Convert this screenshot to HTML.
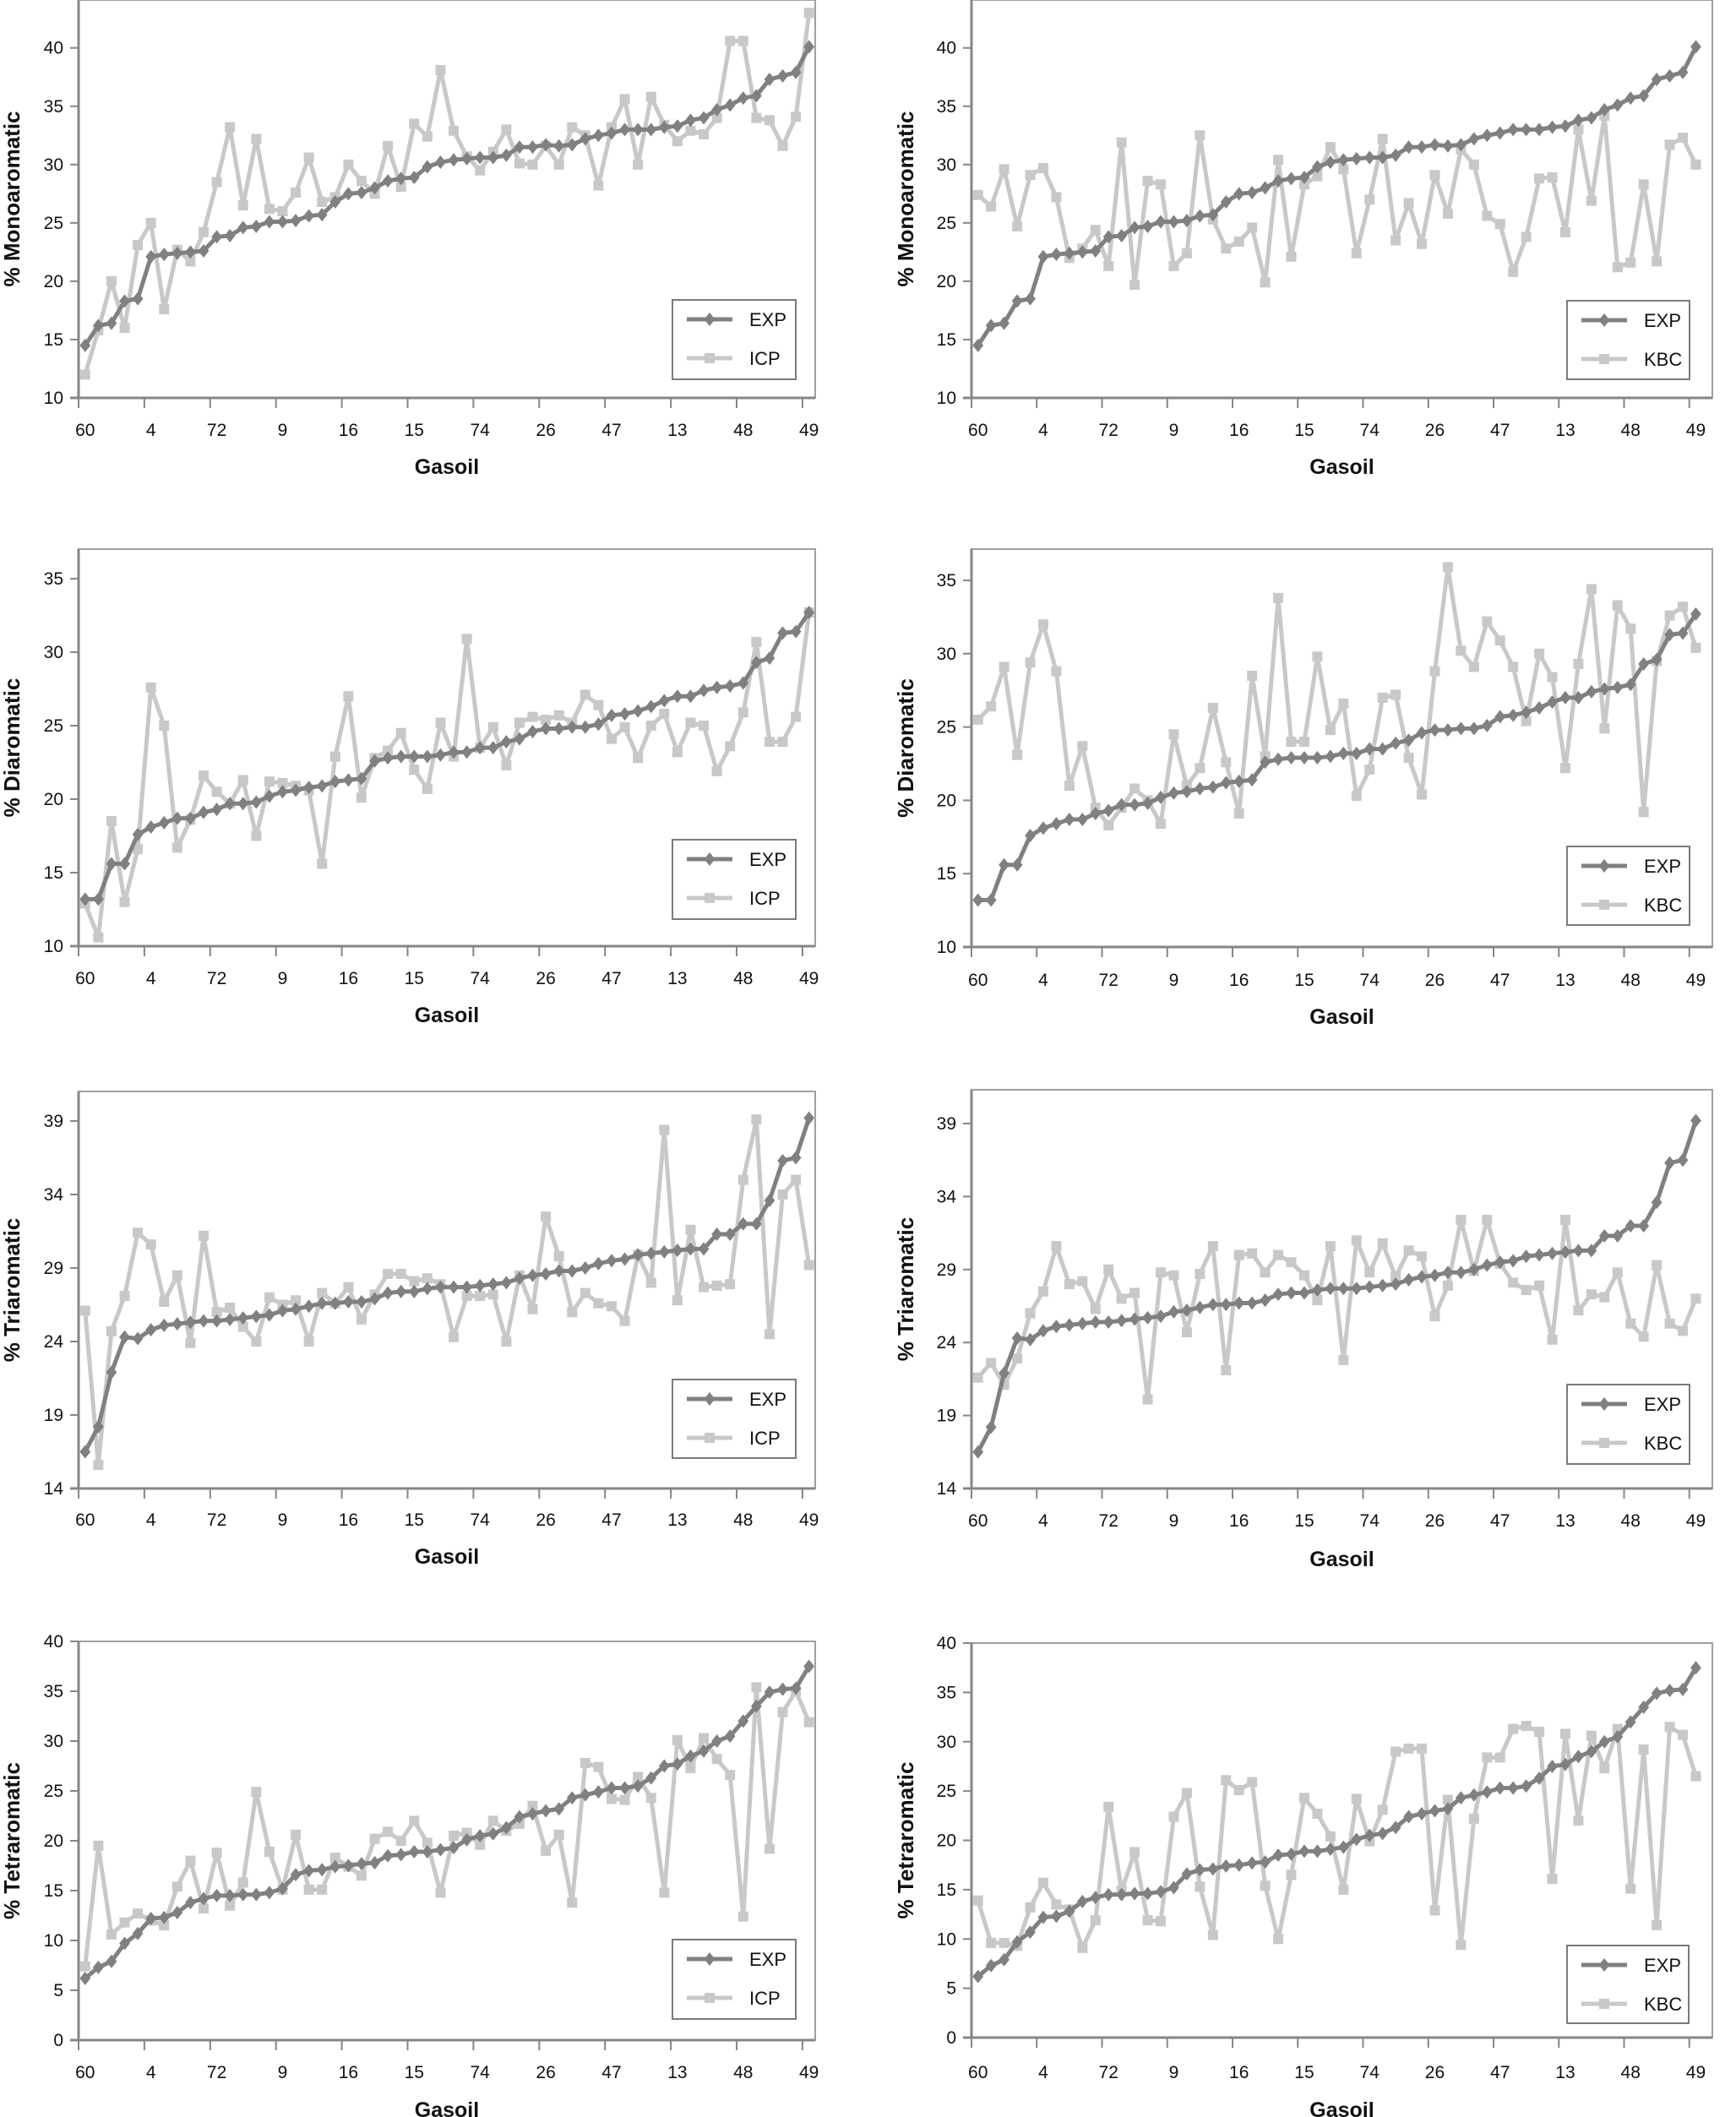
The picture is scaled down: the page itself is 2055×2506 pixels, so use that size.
<!DOCTYPE html>
<html><head><meta charset="utf-8">
<style>
html,body{margin:0;padding:0;background:#fff;}
svg{display:block;}
text{font-family:"Liberation Sans",sans-serif;fill:#111;}
</style></head>
<body>
<svg id="fig" width="2055" height="2506" viewBox="0 0 2055 2506" xmlns="http://www.w3.org/2000/svg"></svg>
<script>
const categoryLabels = ["60","4","72","9","16","15","74","26","47","13","48","49"];
const labelEvery = 5;
const nCategories = 56;

const monoEXP = [14.5,16.2,16.4,18.3,18.5,22.1,22.3,22.4,22.5,22.6,23.8,23.9,24.6,24.7,25.1,25.1,25.2,25.6,25.7,26.8,27.5,27.6,28.0,28.6,28.8,28.9,29.8,30.2,30.4,30.5,30.6,30.6,30.8,31.5,31.5,31.7,31.6,31.7,32.2,32.5,32.7,33.0,33.0,33.0,33.2,33.3,33.8,34.0,34.7,35.1,35.7,35.9,37.3,37.6,37.9,40.1];
const monoICP = [12,15.8,20,16,23.1,25,17.6,22.7,21.7,24.2,28.5,33.2,26.5,32.2,26.2,26.0,27.6,30.6,26.8,27.2,30.0,28.6,27.5,31.6,28.1,33.5,32.4,38.1,32.9,30.7,29.5,31.1,33.0,30.1,30.0,31.6,30.0,33.2,32.5,28.2,33.2,35.6,30.0,35.8,33.4,32.0,32.9,32.6,34.0,40.6,40.6,34.0,33.8,31.6,34.1,43.0];
const monoKBC = [27.4,26.4,29.6,24.7,29.1,29.7,27.2,22.0,22.8,24.4,21.3,31.9,19.7,28.6,28.3,21.3,22.4,32.5,25.3,22.8,23.4,24.6,19.9,30.4,22.1,28.3,29.0,31.5,29.6,22.4,27.0,32.2,23.5,26.7,23.2,29.1,25.8,31.3,30.0,25.6,24.9,20.8,23.8,28.8,28.9,24.2,33.0,26.9,34.2,21.2,21.6,28.3,21.7,31.7,32.3,30.0];

const diEXP = [13.2,13.2,15.6,15.6,17.6,18.1,18.4,18.7,18.7,19.1,19.3,19.7,19.7,19.8,20.2,20.5,20.6,20.8,20.9,21.2,21.3,21.4,22.6,22.8,22.9,22.9,22.9,23.0,23.2,23.2,23.5,23.5,23.9,24.1,24.6,24.8,24.8,24.9,24.9,25.1,25.7,25.8,26.0,26.3,26.7,27.0,27.0,27.4,27.6,27.7,27.9,29.3,29.6,31.3,31.4,32.7];
const diICP = [12.9,10.6,18.5,13.0,16.6,27.6,25.0,16.7,18.6,21.6,20.5,19.7,21.3,17.5,21.2,21.1,20.9,20.6,15.6,22.9,27.0,20.1,22.8,23.3,24.5,22.0,20.7,25.2,22.9,30.9,23.5,24.9,22.3,25.2,25.6,25.4,25.7,25.2,27.1,26.4,24.1,24.9,22.8,25.0,25.8,23.2,25.2,25.0,21.9,23.6,25.9,30.7,23.9,23.9,25.6,32.7];
const diKBC = [25.5,26.4,29.1,23.1,29.4,32.0,28.8,21.0,23.7,19.5,18.3,19.5,20.8,20.0,18.4,24.5,21.0,22.2,26.3,22.6,19.1,28.5,23.0,33.8,24.0,24.0,29.8,24.8,26.6,20.3,22.1,27.0,27.2,22.9,20.4,28.8,35.9,30.2,29.1,32.2,30.9,29.1,25.4,30.0,28.4,22.2,29.3,34.4,24.9,33.3,31.7,19.2,29.5,32.6,33.2,30.4];

const triEXP = [16.5,18.2,21.9,24.3,24.2,24.8,25.1,25.2,25.3,25.4,25.4,25.5,25.6,25.7,25.8,26.1,26.2,26.4,26.6,26.6,26.7,26.7,26.9,27.3,27.4,27.4,27.6,27.7,27.7,27.7,27.8,27.9,28.0,28.3,28.5,28.6,28.8,28.8,29.0,29.3,29.5,29.6,29.9,30.0,30.1,30.2,30.3,30.3,31.3,31.3,32.0,32.0,33.6,36.3,36.5,39.2];
const triICP = [26.1,15.6,24.7,27.1,31.4,30.6,26.7,28.5,23.9,31.2,26.0,26.3,25.0,24.0,27.0,26.5,26.8,24.0,27.3,26.6,27.7,25.5,27.2,28.6,28.6,28.1,28.3,27.9,24.3,27.1,27.1,27.2,24.0,28.5,26.2,32.5,29.8,26.0,27.3,26.6,26.4,25.4,29.9,28.0,38.4,26.8,31.6,27.7,27.8,27.9,35.0,39.1,24.5,34.0,35.0,29.2];
const triKBC = [21.6,22.6,21.1,22.9,26.0,27.5,30.6,28.0,28.2,26.3,29.0,27.0,27.4,20.1,28.8,28.6,24.7,28.7,30.6,22.1,30.0,30.1,28.8,30.0,29.5,28.6,26.9,30.6,22.8,31.0,28.8,30.8,28.5,30.3,29.9,25.8,27.9,32.4,28.9,32.4,29.4,28.1,27.6,27.9,24.2,32.4,26.2,27.3,27.1,28.8,25.3,24.4,29.3,25.3,24.8,27.0];

const tetraEXP = [6.2,7.3,7.9,9.7,10.7,12.2,12.3,12.8,13.8,14.2,14.5,14.5,14.6,14.6,14.8,15.2,16.6,17.0,17.1,17.4,17.5,17.7,17.8,18.5,18.6,18.9,18.9,19.1,19.3,20.1,20.5,20.7,21.3,22.4,22.7,23.0,23.2,24.3,24.6,24.9,25.3,25.3,25.5,26.3,27.5,27.7,28.5,29.0,30.0,30.5,32.0,33.5,34.9,35.2,35.3,37.5];
const tetraICP = [7.4,19.5,10.6,11.8,12.7,12.0,11.5,15.4,18.0,13.2,18.8,13.5,15.8,24.9,18.9,15.1,20.6,15.1,15.1,18.3,17.4,16.5,20.2,20.9,20.0,22.0,19.8,14.8,20.5,20.8,19.6,22.0,21.0,21.7,23.5,19.0,20.6,13.8,27.8,27.4,24.2,24.1,26.4,24.3,14.8,30.1,27.3,30.3,28.2,26.6,12.4,35.4,19.2,32.9,35.0,31.9];
const tetraKBC = [13.9,9.6,9.6,9.3,13.2,15.7,13.5,13.0,9.1,11.9,23.4,14.9,18.8,11.9,11.8,22.4,24.8,15.3,10.4,26.1,25.1,25.9,15.4,10.0,16.5,24.3,22.7,20.4,15.0,24.2,19.9,23.1,29.0,29.3,29.3,12.9,24.1,9.4,22.2,28.4,28.4,31.3,31.6,31.0,16.1,30.8,22.0,30.6,27.3,31.3,15.1,29.2,11.4,31.5,30.7,26.5];

const NS = "http://www.w3.org/2000/svg";
const svg = document.getElementById('fig');
const EXPC = "#808080", MODC = "#c8c8c8";

function mk(tag, attrs, parent){
  const e = document.createElementNS(NS, tag);
  for (const k in attrs) e.setAttribute(k, attrs[k]);
  (parent||svg).appendChild(e);
  return e;
}

const panels = [
  {id:"mono-icp", title:"% Monoaromatic", exp:monoEXP, mod:monoICP, model:"ICP", x0:93, w:15.58, xr:965, top:0, vmin:10, vmax:40, step:5, pmin:471, pmax:56.7, lab:509, gas:552, lg:[796,355,942,449], tx:14},
  {id:"mono-kbc", title:"% Monoaromatic", exp:monoEXP, mod:monoKBC, model:"KBC", x0:1150, w:15.45, xr:2027, top:0, vmin:10, vmax:40, step:5, pmin:471, pmax:56.7, lab:509, gas:552, lg:[1855,356,2000,449], tx:1072},
  {id:"di-icp", title:"% Diaromatic", exp:diEXP, mod:diICP, model:"ICP", x0:93, w:15.58, xr:965, top:650, vmin:10, vmax:35, step:5, pmin:1120, pmax:685, lab:1158, gas:1201, lg:[796,994,942,1088], tx:14},
  {id:"di-kbc", title:"% Diaromatic", exp:diEXP, mod:diKBC, model:"KBC", x0:1150, w:15.45, xr:2027, top:650, vmin:10, vmax:35, step:5, pmin:1121, pmax:687, lab:1160, gas:1203, lg:[1855,1002,2000,1095], tx:1072},
  {id:"tri-icp", title:"% Triaromatic", exp:triEXP, mod:triICP, model:"ICP", x0:93, w:15.58, xr:965, top:1292, vmin:14, vmax:39, step:5, pmin:1762, pmax:1327, lab:1799, gas:1842, lg:[796,1633,942,1726], tx:14},
  {id:"tri-kbc", title:"% Triaromatic", exp:triEXP, mod:triKBC, model:"KBC", x0:1150, w:15.45, xr:2027, top:1290, vmin:14, vmax:39, step:5, pmin:1762, pmax:1330, lab:1800, gas:1845, lg:[1855,1639,2000,1733], tx:1072},
  {id:"tetra-icp", title:"% Tetraromatic", exp:tetraEXP, mod:tetraICP, model:"ICP", x0:93, w:15.58, xr:965, top:1943, vmin:0, vmax:40, step:5, pmin:2415, pmax:1943, lab:2453, gas:2497, lg:[796,2296,942,2390], tx:14},
  {id:"tetra-kbc", title:"% Tetraromatic", exp:tetraEXP, mod:tetraKBC, model:"KBC", x0:1150, w:15.45, xr:2027, top:1945, vmin:0, vmax:40, step:5, pmin:2412, pmax:1945, lab:2453, gas:2497, lg:[1855,2303,1999,2395], tx:1072}
];

function diamond(g, x, y, s, c){
  const p = mk('polygon', {points:`${x},${y-s} ${x+s*0.8},${y} ${x},${y+s} ${x-s*0.8},${y}`, fill:c}, g);
  
  
}
function square(g, x, y, s, c){
  const r = mk('rect', {x:x-s, y:y-s, width:2*s, height:2*s, fill:c}, g);
  
  
}

panels.forEach(P => {
  const g = mk('g', {});
  
  
  const xs = i => P.x0 + (i + 0.5) * P.w;
  const ys = v => P.pmin + (v - P.vmin) * (P.pmax - P.pmin) / (P.vmax - P.vmin);

  // plot frame
  const fr = mk('rect', {x:P.x0, y:P.top, width:P.xr - P.x0, height:P.pmin - P.top, fill:'none', stroke:'#a0a0a0', 'stroke-width':2}, g);
  
  
  const ya = mk('line', {x1:P.x0, y1:P.top, x2:P.x0, y2:P.pmin, stroke:'#868686', 'stroke-width':3}, g);
  
  
  const xa = mk('line', {x1:P.x0 - 10, y1:P.pmin, x2:P.xr, y2:P.pmin, stroke:'#868686', 'stroke-width':3}, g);
  
  

  // y ticks
  for (let v = P.vmin; v <= P.vmax + 0.001; v += P.step) {
    const y = ys(v);
    mk('line', {x1:P.x0 - 10, y1:y, x2:P.x0, y2:y, stroke:'#868686', 'stroke-width':2}, g);
    const t = mk('text', {x:P.x0 - 18, y:y + 7, 'text-anchor':'end', 'font-size':21}, g);
    
    
    t.textContent = String(v);
  }
  // x ticks & labels
  for (let k = 0; k < categoryLabels.length; k++) {
    const i = k * labelEvery;
    const bx = P.x0 + i * P.w;
    mk('line', {x1:bx, y1:P.pmin, x2:bx, y2:P.pmin + 12, stroke:'#868686', 'stroke-width':2}, g);
    const t = mk('text', {x:xs(i), y:P.lab + 7, 'text-anchor':'middle', 'font-size':21}, g);
    
    
    t.textContent = categoryLabels[k];
  }
  // axis titles
  const xt = mk('text', {x:(P.x0 + P.xr) / 2, y:P.gas + 9, 'text-anchor':'middle', 'font-size':25, 'font-weight':'bold'}, g);
  
  
  xt.textContent = 'Gasoil';
  const cy = (P.top + P.pmin) / 2;
  const yt = mk('text', {x:P.tx, y:cy, 'text-anchor':'middle', 'font-size':26, 'font-weight':'bold', transform:`rotate(-90 ${P.tx} ${cy})`, dy:9}, g);
  
  
  yt.textContent = P.title;

  // series
  const modPts = P.mod.map((v, i) => xs(i) + ',' + ys(v)).join(' ');
  const ml = mk('polyline', {points:modPts, fill:'none', stroke:MODC, 'stroke-width':5, 'stroke-linejoin':'round'}, g);
  
  
  P.mod.forEach((v, i) => square(g, xs(i), ys(v), 6, MODC));
  const expPts = P.exp.map((v, i) => xs(i) + ',' + ys(v)).join(' ');
  const el = mk('polyline', {points:expPts, fill:'none', stroke:EXPC, 'stroke-width':5, 'stroke-linejoin':'round'}, g);
  
  
  P.exp.forEach((v, i) => diamond(g, xs(i), ys(v), 8, EXPC));

  // legend
  const [lx0, ly0, lx1, ly1] = P.lg;
  const lgG = mk('g', {}, g);
  
  
  mk('rect', {x:lx0, y:ly0, width:lx1 - lx0, height:ly1 - ly0, fill:'#fff', stroke:'#7a7a7a', 'stroke-width':2}, lgG);
  const entries = [["EXP", EXPC, 0], [P.model, MODC, 1]];
  entries.forEach(([name, c, j]) => {
    const eg = mk('g', {}, lgG);
    
    
    const sy = ly0 + 23 + j * 46;
    mk('line', {x1:lx0 + 17, y1:sy, x2:lx0 + 71, y2:sy, stroke:c, 'stroke-width':5}, eg);
    if (j === 0) diamond(eg, lx0 + 44, sy, 8, c); else square(eg, lx0 + 44, sy, 6, c);
    const t = mk('text', {x:lx0 + 91, y:sy + 8, 'font-size':22}, eg);
    t.textContent = name;
  });
});
</script>
</body></html>
